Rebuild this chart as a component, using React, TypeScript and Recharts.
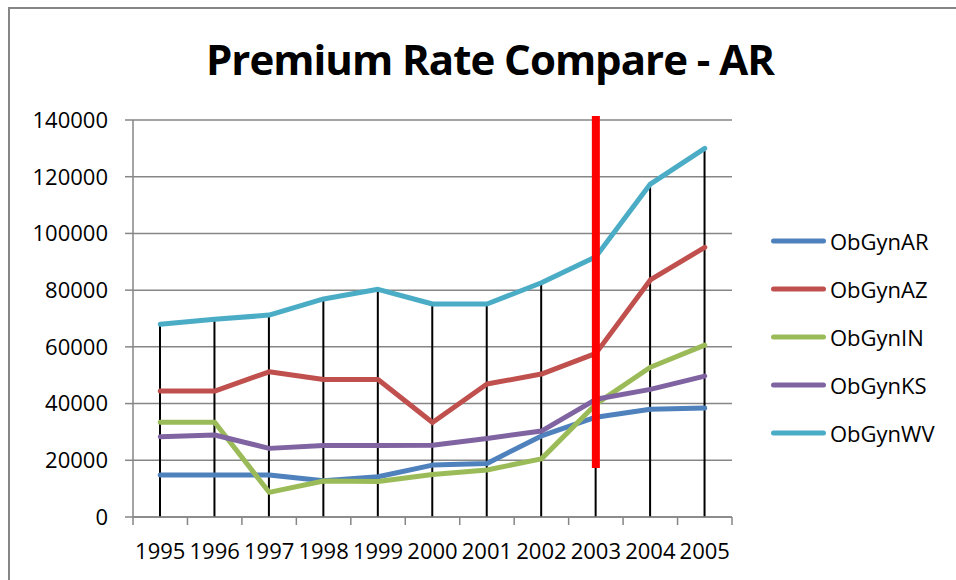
import React from 'react';
import {
  ComposedChart,
  Line,
  Bar,
  XAxis,
  YAxis,
  CartesianGrid,
  ReferenceLine,
} from 'recharts';

const years = ['1995', '1996', '1997', '1998', '1999', '2000', '2001', '2002', '2003', '2004', '2005'];
const obGynAR = [14800, 14800, 14800, 12800, 14200, 18300, 18900, 28600, 35200, 38000, 38400];
const obGynAZ = [44400, 44400, 51200, 48500, 48500, 33300, 46900, 50400, 57700, 83600, 95100];
const obGynIN = [33400, 33400, 8700, 12700, 12500, 15000, 16600, 20500, 39800, 52800, 60600];
const obGynKS = [28300, 28900, 24200, 25200, 25200, 25300, 27700, 30300, 41500, 45000, 49700];
const obGynWV = [68000, 69700, 71200, 76900, 80300, 75100, 75100, 82600, 91800, 117400, 130000];
const yTicks = [0, 20000, 40000, 60000, 80000, 100000, 120000, 140000];
const markerYear = '2003';
const markerRange = [17300, 141400];

const series = [
  { key: 'ObGynAR', values: obGynAR, color: '#4F81BD' },
  { key: 'ObGynAZ', values: obGynAZ, color: '#C0504D' },
  { key: 'ObGynIN', values: obGynIN, color: '#9BBB59' },
  { key: 'ObGynKS', values: obGynKS, color: '#8064A2' },
  { key: 'ObGynWV', values: obGynWV, color: '#4BACC6' },
];

const data = years.map((year, i) => {
  const row: Record<string, number | string> = { i, year };
  series.forEach((s) => {
    row[s.key] = s.values[i];
  });
  row.drop = obGynWV[i];
  return row;
});

const xTicks: number[] = [];
for (let k = 0; k <= years.length; k++) {
  xTicks.push(k - 0.5);
  if (k < years.length) xTicks.push(k);
}

const GRAY = '#868686';
const FONT = "'Open Sans', sans-serif";

const XTick = (props: any) => {
  const { x, y, payload } = props;
  const v = payload.value as number;
  if (Number.isInteger(v)) {
    return (
      <text x={x} y={y + 42} textAnchor="middle" fontSize={22} fill="#000" fontFamily={FONT}>
        {years[v]}
      </text>
    );
  }
  return <line x1={x} x2={x} y1={y} y2={y + 8} stroke={GRAY} strokeWidth={1.5} />;
};

export default function App() {
  const markerX = years.indexOf(markerYear);
  return (
    <div
      style={{
        position: 'absolute',
        left: 0,
        top: 0,
        width: 956,
        height: 580,
        overflow: 'hidden',
        background: '#fff',
      }}
    >
      <div
        style={{
          position: 'absolute',
          left: 8,
          top: 7,
          width: 1100,
          height: 700,
          borderLeft: `2px solid ${GRAY}`,
          borderTop: `2px solid ${GRAY}`,
        }}
      />
      <div
        style={{
          position: 'absolute',
          left: 490,
          top: 38,
          transform: 'translateX(-50%)',
          whiteSpace: 'nowrap',
          fontFamily: FONT,
          fontWeight: 700,
          fontSize: 42,
          lineHeight: '42px',
          letterSpacing: -1.0,
          color: '#000',
        }}
      >
        Premium Rate Compare - AR
      </div>
      <div style={{ position: 'absolute', left: 0, top: 0 }}>
        <ComposedChart
          width={956}
          height={580}
          data={data}
          margin={{ top: 120, right: 224, bottom: 0, left: 0 }}
          style={{ fontFamily: FONT }}
        >
          <CartesianGrid vertical={false} stroke={GRAY} strokeWidth={1.5} />
          <XAxis
            dataKey="i"
            type="number"
            domain={[-0.5, years.length - 0.5]}
            ticks={xTicks}
            interval={0}
            tick={<XTick />}
            tickLine={false}
            tickSize={0}
            tickMargin={0}
            height={63}
            axisLine={{ stroke: GRAY, strokeWidth: 1.5 }}
            allowDataOverflow
          />
          <YAxis
            type="number"
            domain={[0, 140000]}
            ticks={yTicks}
            interval={0}
            width={133}
            tickSize={8}
            tickMargin={17}
            tick={{ fill: '#000', fontSize: 22, fontFamily: FONT }}
            tickLine={{ stroke: GRAY, strokeWidth: 1.5 }}
            axisLine={{ stroke: GRAY, strokeWidth: 1.5 }}
          />
          {series.map((s) => (
            <Line
              key={s.key}
              dataKey={s.key}
              type="linear"
              stroke={s.color}
              strokeWidth={5}
              strokeLinecap="round"
              strokeLinejoin="round"
              dot={false}
              activeDot={false}
              isAnimationActive={false}
            />
          ))}
          <Bar dataKey="drop" barSize={2} fill="#000" isAnimationActive={false} legendType="none" />
          <ReferenceLine
            segment={[
              { x: markerX, y: markerRange[0] },
              { x: markerX, y: markerRange[1] },
            ]}
            stroke="#FF0000"
            strokeWidth={8}
            ifOverflow="visible"
          />
        </ComposedChart>
      </div>
      <div style={{ position: 'absolute', left: 768, top: 217, fontFamily: FONT }}>
        {series.map((s) => (
          <div key={s.key} style={{ display: 'flex', alignItems: 'center', height: 48 }}>
            <svg width={62} height={10} style={{ display: 'block' }}>
              <line x1={5.5} x2={55.5} y1={5} y2={5} stroke={s.color} strokeWidth={5} strokeLinecap="round" />
            </svg>
            <span style={{ fontSize: 22, color: '#000', whiteSpace: 'nowrap' }}>{s.key}</span>
          </div>
        ))}
      </div>
    </div>
  );
}
